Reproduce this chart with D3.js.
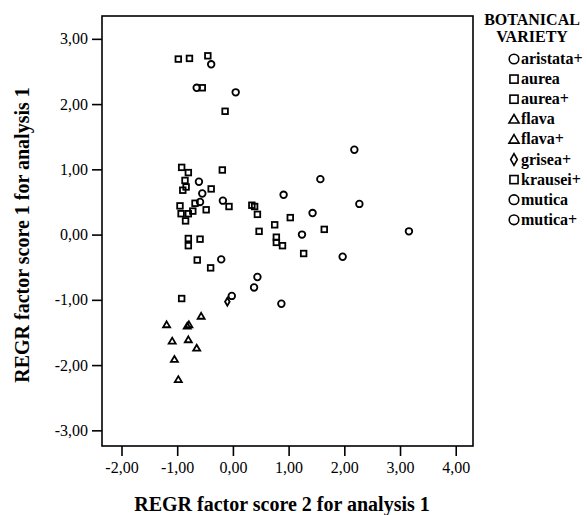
<!DOCTYPE html>
<html>
<head>
<meta charset="utf-8">
<script src="https://cdn.jsdelivr.net/npm/d3@7"></script>
<style>
  body { margin: 0; background: #fff; }
  text { font-family: "Liberation Serif", "Times New Roman", serif; fill: #000; }
</style>
</head>
<body>
<div id="chart"></div>
<script>
// points per botanical variety: [factor score 2, factor score 1]
var aristataPlus = [[-0.39, 2.61], [-0.65, 2.25], [0.05, 2.18], [-0.61, 0.81], [-0.55, 0.63], [-0.59, 0.50], [-0.18, 0.52]];
var aurea = [[-0.98, 2.69], [-0.78, 2.70], [-0.45, 2.74], [-0.55, 2.25], [-0.14, 1.89], [-0.92, 1.03], [-0.80, 0.95], [-0.86, 0.83], [-0.84, 0.73], [-0.90, 0.68], [-0.39, 0.70], [-0.19, 0.99]];
var aureaPlus = [[-0.68, 0.48], [-0.95, 0.44], [-0.93, 0.32], [-0.80, 0.32], [-0.72, 0.36], [-0.85, 0.21], [-0.48, 0.38], [-0.07, 0.43], [-0.80, -0.06], [-0.59, -0.07], [-0.80, -0.17], [-0.64, -0.39], [-0.40, -0.51], [-0.92, -0.98]];
var flava = [[-0.57, -1.25], [-1.19, -1.38], [-0.82, -1.40], [-0.79, -1.38]];
var flavaPlus = [[-1.09, -1.63], [-0.80, -1.61], [-0.65, -1.74], [-1.05, -1.91], [-0.98, -2.22]];
var griseaPlus = [[-0.10, -1.03]];
var krauseiPlus = [[0.34, 0.45], [0.39, 0.43], [0.44, 0.31], [0.47, 0.05], [0.75, 0.15], [1.03, 0.26], [0.78, -0.04], [0.78, -0.12], [0.89, -0.17], [1.64, 0.08], [1.27, -0.29]];
var mutica = [[-0.21, -0.38], [-0.02, -0.94], [0.44, -0.65], [0.38, -0.81], [0.87, -1.06], [1.24, 0.00]];
var muticaPlus = [[2.18, 1.30], [1.57, 0.85], [0.91, 0.61], [2.27, 0.47], [1.43, 0.33], [3.16, 0.05], [1.97, -0.34]];

var varieties = ["aristata+", "aurea", "aurea+", "flava", "flava+", "grisea+", "krausei+", "mutica", "mutica+"];
var varietyData = [aristataPlus, aurea, aureaPlus, flava, flavaPlus, griseaPlus, krauseiPlus, mutica, muticaPlus];
var varietyShape = ["circle", "square", "square", "triangle", "triangle", "diamond", "square", "circle", "circle"];

var xTicks = [-2, -1, 0, 1, 2, 3, 4];
var yTicks = [-3, -2, -1, 0, 1, 2, 3];

var width = 587, height = 515;
var plotLeft = 102, plotRight = 473, plotTop = 16, plotBottom = 446;

var svg = d3.select("#chart").append("svg")
  .attr("width", width)
  .attr("height", height);

svg.append("rect").attr("width", width).attr("height", height).attr("fill", "#fff");

var x = d3.scaleLinear().domain([-2.35, 4.31]).range([plotLeft, plotRight]);
var y = d3.scaleLinear().domain([-3.24, 3.35]).range([plotBottom, plotTop]);

var fmt = function(d) { return d3.format(".2f")(d).replace(".", ",").replace("−", "-"); };

/* axes */
var xAxis = svg.append("g")
  .attr("transform", `translate(0, ${plotBottom})`)
  .call(d3.axisBottom(x).tickValues(xTicks).tickSize(10).tickPadding(6).tickFormat(fmt));
var yAxis = svg.append("g")
  .attr("transform", `translate(${plotLeft}, 0)`)
  .call(d3.axisLeft(y).tickValues(yTicks).tickSize(10).tickPadding(4).tickFormat(fmt));

[xAxis, yAxis].forEach(function(a) {
  a.select(".domain").remove();
  a.selectAll(".tick line").attr("stroke", "#000").attr("stroke-width", 1.6);
  a.selectAll(".tick text")
    .style("font-family", "'Liberation Serif', serif")
    .style("font-size", "16px")
    .attr("fill", "#000");
});

svg.append("rect")
  .attr("x", plotLeft).attr("y", plotTop)
  .attr("width", plotRight - plotLeft).attr("height", plotBottom - plotTop)
  .attr("fill", "none").attr("stroke", "#000").attr("stroke-width", 1.6);

/* symbols */
function drawSymbol(g, shape, cx, cy, s) {
  if (shape === "circle") {
    g.append("circle").attr("cx", cx).attr("cy", cy).attr("r", 3.3 * s);
  } else if (shape === "square") {
    g.append("rect").attr("x", cx - 2.8 * s).attr("y", cy - 2.8 * s)
      .attr("width", 5.6 * s).attr("height", 5.6 * s);
  } else if (shape === "triangle") {
    g.append("path").attr("d", `M${cx},${cy - 3.3 * s}L${cx + 3.5 * s},${cy + 2.6 * s}L${cx - 3.5 * s},${cy + 2.6 * s}Z`);
  } else {
    g.append("path").attr("d", `M${cx},${cy - 4 * s}L${cx + 2.3 * s},${cy}L${cx},${cy + 4 * s}L${cx - 2.3 * s},${cy}Z`);
  }
}

var marks = svg.append("g").attr("fill", "none").attr("stroke", "#000").attr("stroke-width", 1.8);
varietyData.forEach(function(pts, i) {
  pts.forEach(function(p) {
    drawSymbol(marks, varietyShape[i], x(p[0]), y(p[1]), 1);
  });
});

/* axis titles */
svg.append("text")
  .attr("x", 282)
  .attr("y", 511)
  .attr("text-anchor", "middle")
  .style("font-size", "20px")
  .style("font-weight", "bold")
  .text("REGR factor score 2 for analysis 1");

svg.append("text")
  .attr("transform", `translate(29, 235) rotate(-90)`)
  .attr("text-anchor", "middle")
  .style("font-size", "20px")
  .style("font-weight", "bold")
  .text("REGR factor score 1 for analysis 1");

/* legend */
var legend = svg.append("g");
legend.append("text").attr("x", 532).attr("y", 25).attr("text-anchor", "middle")
  .style("font-size", "16px").style("font-weight", "bold").text("BOTANICAL");
legend.append("text").attr("x", 532).attr("y", 42).attr("text-anchor", "middle")
  .style("font-size", "16px").style("font-weight", "bold").text("VARIETY");

var legendSym = legend.append("g").attr("fill", "none").attr("stroke", "#000").attr("stroke-width", 1.6);
varieties.forEach(function(v, i) {
  var cy = 59 + i * 20.1;
  drawSymbol(legendSym, varietyShape[i], 514, cy, 1.45);
  legend.append("text").attr("x", 521).attr("y", cy + 5)
    .style("font-size", "16px").style("font-weight", "bold").text(v);
});
</script>
</body>
</html>
